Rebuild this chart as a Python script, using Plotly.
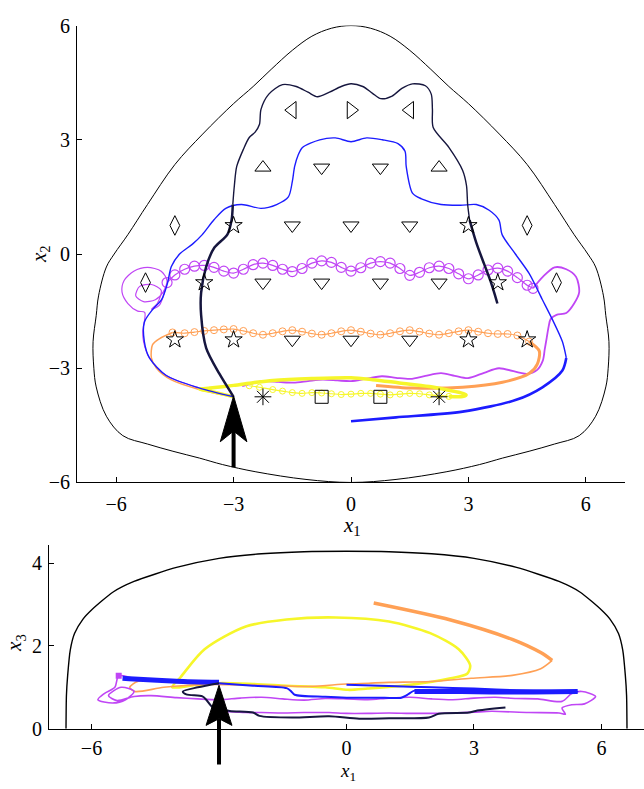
import plotly.graph_objects as go

# ---------------- colours ----------------
NAVY = "#16163e"
BLUE = "#1c1cff"
MAG = "#c046f5"
ORANGE = "#ffa055"
YELLOW = "#f6f62a"

# ---------------- top panel (x1, x2) ----------------
# right half of the admissible region boundary (mirrored for the left half)
BND_TOP_RX = [0.0, 0.5, 1.0, 1.5, 2.04, 2.5, 3.0, 3.79, 4.5, 5.2, 5.7, 6.05, 6.25, 6.45, 6.51,
              6.59, 6.57, 6.51, 6.25, 5.83, 5.2, 4.55, 3.87, 3.28, 2.43, 1.15, 0.0]
BND_TOP_RY = [6.0, 5.93, 5.72, 5.35, 4.85, 4.4, 3.95, 3.15, 2.35, 1.3, 0.51, 0.0, -0.34, -1.1, -1.62,
              -2.3, -3.0, -3.49, -4.26, -4.77, -4.99, -5.18, -5.36, -5.53, -5.72, -5.92, -6.0]

NAVY_A_X = [-3.0, -3.36, -3.7, -3.83, -3.83, -3.7, -3.49, -3.16, -3.05, -3.02]
NAVY_A_Y = [-3.75, -3.15, -2.47, -1.6, -1.02, -0.33, 0.17, 0.51, 0.9, 1.3]
NAVY_B_X = [-3.02, -2.98, -2.92, -2.75, -2.6, -2.45, -2.34, -2.3, -2.1, -1.75, -1.4, -1.1, -0.86,
            -0.55, -0.25, 0.0, 0.3, 0.55, 0.76, 1.05, 1.3, 1.57, 1.9, 2.05, 2.08, 2.1, 2.5, 2.85,
            2.95, 2.98, 3.03]
NAVY_B_Y = [1.3, 1.8, 2.3, 2.75, 3.06, 3.2, 3.4, 3.8, 4.2, 4.45, 4.4, 4.25, 4.13, 4.25, 4.4, 4.47,
            4.4, 4.22, 4.08, 4.15, 4.35, 4.47, 4.42, 4.2, 3.8, 3.32, 2.8, 2.2, 1.8, 1.3, 0.89]
NAVY_C_X = [3.03, 3.2, 3.4, 3.56, 3.66, 3.74]
NAVY_C_Y = [0.89, 0.3, -0.26, -0.7, -1.02, -1.3]

BLUE_A_X = [-3.0, -3.87, -4.72, -5.15, -5.28, -5.28, -5.07, -4.84, -4.69, -4.59, -4.38, -4.05,
            -3.8, -3.5, -3.2, -2.8, -2.3, -1.9, -1.6, -1.5, -1.44, -1.35, -1.24, -0.8, -0.4, 0.0,
            0.4, 0.8, 1.2, 1.38, 1.41, 1.57, 1.8, 2.3, 2.8, 3.2, 3.53, 3.78, 3.86, 4.2, 4.55, 4.89,
            5.14, 5.4, 5.5]
BLUE_A_Y = [-3.75, -3.52, -3.19, -2.73, -2.3, -1.79, -1.46, -1.2, -0.77, -0.33, 0.0, 0.26, 0.51,
            0.9, 1.2, 1.3, 1.2, 1.3, 1.5, 1.9, 2.3, 2.6, 2.8, 3.0, 3.05, 2.95, 3.05, 3.0, 2.9, 2.7,
            2.3, 1.6, 1.45, 1.3, 1.28, 1.3, 1.15, 0.89, 0.51, 0.0, -0.51, -1.2, -1.71, -2.3, -2.73]
BLUE_B_X = [5.5, 5.4, 4.89, 4.22, 2.85, 1.15, 0.0]
BLUE_B_Y = [-2.73, -3.06, -3.5, -3.83, -4.14, -4.29, -4.39]

MAG_A_X = [-3.0, -3.87, -4.72, -5.15, -5.3, -5.32, -5.27, -5.45, -5.7, -5.85, -5.8, -5.55, -5.2,
           -4.85, -4.7, -4.8, -5.0, -5.3, -5.5, -5.4, -5.1, -4.85, -4.95, -5.1, -4.9, -4.7]
MAG_A_Y = [-3.75, -3.52, -3.19, -2.73, -2.3, -2.04, -1.53, -1.5, -1.3, -1.0, -0.7, -0.45, -0.35,
           -0.45, -0.7, -1.0, -1.2, -1.25, -1.1, -0.85, -0.8, -0.95, -1.3, -1.45, -1.35, -0.75]
MAG_ROW_X = [-4.7, -4.5, -4.25, -4.0, -3.75, -3.5, -3.25, -3.0, -2.75, -2.5, -2.25, -2.0, -1.75,
             -1.5, -1.25, -1.0, -0.75, -0.5, -0.25, 0.0, 0.25, 0.5, 0.75, 1.0, 1.25, 1.5, 1.75,
             2.0, 2.25, 2.5, 2.75, 3.0, 3.25, 3.5, 3.75, 4.0, 4.25, 4.5, 4.65]
MAG_ROW_Y = [-0.75, -0.55, -0.4, -0.32, -0.3, -0.35, -0.45, -0.5, -0.4, -0.28, -0.24, -0.3, -0.4,
             -0.46, -0.38, -0.24, -0.18, -0.22, -0.35, -0.45, -0.36, -0.24, -0.2, -0.24, -0.38,
             -0.56, -0.48, -0.36, -0.32, -0.38, -0.52, -0.65, -0.55, -0.42, -0.37, -0.45, -0.62,
             -0.82, -0.9]
MAG_C_X = [4.65, 4.9, 5.2, 5.5, 5.75, 5.83, 5.7, 5.5, 5.25, 5.1, 5.05, 5.0, 4.95, 4.9, 4.75, 4.5,
           3.78, 3.4, 2.99, 2.65, 2.3, 1.9, 1.52, 1.15, 0.79, 0.4, 0.0, -0.35, -0.73, -1.1, -1.47,
           -1.85, -2.25, -2.78]
MAG_C_Y = [-0.9, -0.6, -0.35, -0.4, -0.6, -1.0, -1.3, -1.55, -1.6, -1.71, -1.9, -2.2, -2.5, -2.8,
           -3.05, -3.15, -3.0, -3.12, -3.26, -3.2, -3.13, -3.2, -3.28, -3.25, -3.21, -3.27, -3.34,
           -3.32, -3.3, -3.34, -3.38, -3.36, -3.34, -3.47]

ORA_A_X = [-3.0, -3.9, -4.6, -4.97, -5.1, -5.07, -4.89, -4.56]
ORA_A_Y = [-3.75, -3.55, -3.3, -3.0, -2.73, -2.38, -2.22, -2.06]
ORA_ROW_X = [-4.56, -4.25, -4.0, -3.75, -3.5, -3.25, -3.0, -2.75, -2.5, -2.25, -2.0, -1.75, -1.5,
             -1.25, -1.0, -0.75, -0.5, -0.25, 0.0, 0.25, 0.5, 0.75, 1.0, 1.25, 1.5, 1.75, 2.0,
             2.25, 2.5, 2.75, 3.0, 3.25, 3.5, 3.75, 4.0, 4.25, 4.55]
ORA_ROW_Y = [-2.06, -2.08, -2.05, -2.02, -2.0, -1.98, -1.97, -2.02, -2.08, -2.12, -2.08, -2.03,
             -2.0, -2.04, -2.09, -2.12, -2.08, -2.03, -2.0, -2.04, -2.09, -2.12, -2.08, -2.03,
             -2.0, -2.04, -2.09, -2.12, -2.08, -2.03, -2.0, -2.04, -2.08, -2.1, -2.1, -2.14, -2.3]
ORA_B_X = [4.55, 4.81, 4.76, 4.55, 3.87, 2.85, 1.57, 0.64]
ORA_B_Y = [-2.3, -2.55, -2.89, -3.14, -3.37, -3.5, -3.52, -3.45]

YEL_A_X = [-3.0, -3.6, -3.87, -3.6, -3.0, -2.5, -2.0, -1.0, 0.0, 0.55, 1.2, 2.0, 2.5, 2.85, 2.94,
           2.85, 2.5]
YEL_A_Y = [-3.75, -3.6, -3.55, -3.52, -3.45, -3.38, -3.32, -3.27, -3.25, -3.3, -3.38, -3.48,
           -3.58, -3.66, -3.7, -3.74, -3.74]
YEL_B_X = [2.5, 2.25, 2.0, 1.75, 1.5, 1.25, 1.0, 0.75, 0.5, 0.25, 0.0, -0.25, -0.5, -0.75, -1.0,
           -1.25, -1.5, -1.75, -2.0, -2.34, -2.6]
YEL_B_Y = [-3.74, -3.72, -3.7, -3.67, -3.66, -3.68, -3.7, -3.68, -3.66, -3.66, -3.68, -3.69,
           -3.67, -3.65, -3.64, -3.66, -3.64, -3.6, -3.56, -3.5, -3.46]

# target / obstacle markers: (x1, x2, symbol)
MK_X = [-1.5, 0.0, 1.5,
        -2.25, -0.75, 0.75, 2.25,
        -4.5, -3.0, -1.5, 0.0, 1.5, 3.0, 4.5,
        -5.25, -3.75, -2.25, -0.75, 0.75, 2.25, 3.75, 5.25,
        -4.5, -3.0, -1.5, 0.0, 1.5, 3.0, 4.5,
        -2.25, -0.75, 0.75, 2.25]
MK_Y = [3.78, 3.78, 3.78,
        2.27, 2.27, 2.27, 2.27,
        0.75, 0.75, 0.75, 0.75, 0.75, 0.75, 0.75,
        -0.75, -0.75, -0.75, -0.75, -0.75, -0.75, -0.75, -0.75,
        -2.25, -2.25, -2.25, -2.25, -2.25, -2.25, -2.25,
        -3.75, -3.75, -3.75, -3.75]
MK_S = ["triangle-left", "triangle-right", "triangle-left",
        "triangle-up", "triangle-down", "triangle-down", "triangle-up",
        "diamond-tall", "star", "triangle-down", "triangle-down", "triangle-down", "star", "diamond-tall",
        "diamond-tall", "star", "triangle-down", "triangle-down", "triangle-down", "triangle-down", "star", "diamond-tall",
        "star", "star", "triangle-down", "triangle-down", "triangle-down", "star", "star",
        "asterisk", "square", "square", "asterisk"]

ARROW_TOP = dict(x=-3.0, tip=-3.73, tail=-5.6)
ARROW_BOT = dict(x=-3.0, tip=1.05, tail=-0.9)

# ---------------- bottom panel (x1, x3) ----------------
BND_BOT_X = [-6.6, -6.59, -6.56, -6.5, -6.4, -6.2, -6.0, -5.5, -5.0, -4.0, -3.0, -2.0, -1.0, 0.0,
             1.0, 2.0, 3.0, 4.0, 5.0, 5.5, 6.0, 6.2, 6.4, 6.5, 6.56, 6.59, 6.6]
BND_BOT_Y = [0.0, 0.8, 1.3, 1.9, 2.3, 2.65, 2.87, 3.3, 3.56, 3.9, 4.12, 4.23, 4.28, 4.29,
             4.28, 4.23, 4.12, 3.9, 3.56, 3.3, 2.87, 2.65, 2.3, 1.9, 1.3, 0.8, 0.0]

NAVY_BX = [-3.0, -3.5, -3.85, -3.77, -3.39, -3.3, -3.14, -2.75, -2.2, -2.05, -1.27, -0.41, 0.3,
           1.0, 1.94, 2.17, 2.88, 3.04, 3.74]
NAVY_BY = [1.1, 1.0, 0.9, 0.83, 0.78, 0.7, 0.51, 0.43, 0.39, 0.31, 0.27, 0.3, 0.24, 0.25, 0.27,
           0.36, 0.39, 0.43, 0.51]

BLUE_BX = [-3.0, -2.2, -1.41, -1.3, -1.22, -0.5, 0.0, 0.7, 1.29, 1.4, 1.49, 1.6, 2.7, 3.41, 4.4,
           5.44, 5.3, 4.0, 3.0, 2.0, 1.0, 0.0]
BLUE_BY = [1.1, 1.04, 0.98, 0.9, 0.82, 0.77, 0.75, 0.75, 0.75, 0.8, 0.86, 0.92, 0.93, 0.92, 0.91,
           0.9, 0.9, 0.93, 0.97, 1.0, 1.03, 1.06]
BLUE_BANDX = [-3.0, -4.0, -5.0, -5.27, None, 1.6, 2.7, 3.41, 4.4, 5.44]
BLUE_BANDY = [1.12, 1.15, 1.2, 1.22, None, 0.9, 0.9, 0.89, 0.89, 0.9]

MAG_BX = [-3.0, -4.0, -5.0, -5.36, -5.45, -5.7, -5.85, -5.5, -5.2, -5.0, -5.3, -5.6, -5.4, -5.0,
          -4.6, -4.0, -3.5, -3.0, -2.5, -2.0, -1.5, -1.0, -0.5, 0.0, 0.5, 1.0, 1.5, 2.0, 2.5,
          3.0, 3.5, 4.0, 4.5, 5.07, 5.3, 5.54, 5.86, 5.6, 5.3, 5.07, 5.15, 5.0, 4.29, 3.41, 3.0,
          2.5, 2.0, 1.49, 1.0, 0.5, 0.0, -0.41, -1.0, -1.5, -2.0, -2.37, -2.8, -3.14]
MAG_BY = [1.1, 1.15, 1.22, 1.28, 1.0, 0.85, 0.7, 0.62, 0.7, 0.9, 1.0, 0.8, 0.68, 0.78, 0.8, 0.75,
          0.72, 0.7, 0.74, 0.76, 0.72, 0.69, 0.73, 0.72, 0.7, 0.74, 0.76, 0.72, 0.7, 0.74, 0.76,
          0.73, 0.72, 0.66, 0.85, 0.9, 0.78, 0.6, 0.58, 0.5, 0.35, 0.38, 0.39, 0.42, 0.4, 0.38,
          0.37, 0.37, 0.38, 0.37, 0.37, 0.39, 0.39, 0.38, 0.39, 0.39, 0.41, 0.43]

ORA_BX = [-3.0, -4.0, -4.9, -5.1, -4.98, -4.3, -3.34, -2.0, -1.0, 0.0, 0.52, 1.0, 1.97, 2.93,
          3.9, 4.57, 4.84]
ORA_BY = [1.1, 1.12, 1.15, 1.0, 0.9, 1.0, 1.07, 1.05, 1.02, 1.08, 1.1, 1.12, 1.14, 1.22, 1.29,
          1.45, 1.65]
ORA_THX = [4.84, 4.57, 3.9, 2.45, 0.64]
ORA_THY = [1.65, 1.84, 2.16, 2.63, 3.04]

YEL_BX = [-3.0, -3.6, -4.1, -3.9, -3.34, -2.37, -1.41, -0.25, 1.0, 1.97, 2.64, 2.91, 2.84, 2.45,
          1.49, 0.5, 0.04, -0.5, -1.41, -2.2, -3.0]
YEL_BY = [1.1, 1.05, 1.0, 1.25, 1.92, 2.47, 2.64, 2.69, 2.59, 2.31, 1.92, 1.53, 1.33, 1.22,
          1.06, 0.97, 0.94, 1.0, 1.04, 1.08, 1.1]

# ---------------- figure ----------------
fig = go.Figure()


def line(xs, ys, color, width, xa="x", ya="y", markers=None, smooth=0.8):
    kw = dict(x=xs, y=ys, xaxis=xa, yaxis=ya, hoverinfo="skip",
              line=dict(color=color, width=width, shape="spline", smoothing=smooth),
              mode="lines")
    if markers:
        kw["mode"] = "lines+markers"
        kw["marker"] = markers
    fig.add_trace(go.Scatter(**kw))


# boundary top
bx = BND_TOP_RX + [-v for v in reversed(BND_TOP_RX[:-1])]
by = BND_TOP_RY + list(reversed(BND_TOP_RY[:-1]))
line(bx, by, "black", 1, smooth=1.0)

line(MAG_A_X, MAG_A_Y, MAG, 1.2)
line(MAG_ROW_X, MAG_ROW_Y, MAG, 1.2,
     markers=dict(symbol="circle-open", size=10, color=MAG, line=dict(width=1.2, color=MAG)))
line(MAG_C_X, MAG_C_Y, MAG, 1.8)
line(ORA_A_X, ORA_A_Y, ORANGE, 1.5)
line(ORA_ROW_X, ORA_ROW_Y, ORANGE, 1.2,
     markers=dict(symbol="circle-open", size=7, color=ORANGE, line=dict(width=1, color=ORANGE)))
line(ORA_B_X, ORA_B_Y, ORANGE, 3)
line(YEL_B_X, YEL_B_Y, YELLOW, 1.2,
     markers=dict(symbol="circle-open", size=6, color=YELLOW, line=dict(width=1, color=YELLOW)))
line(YEL_A_X, YEL_A_Y, YELLOW, 3.5)
line(BLUE_A_X, BLUE_A_Y, BLUE, 1.4)
line(BLUE_B_X, BLUE_B_Y, BLUE, 2.6)
line(NAVY_A_X, NAVY_A_Y, NAVY, 2.5)
line(NAVY_B_X, NAVY_B_Y, NAVY, 1.4)
line(NAVY_C_X, NAVY_C_Y, NAVY, 2.5)

# markers
MK_SIZE = {"triangle-left": 15, "triangle-right": 15, "triangle-up": 14, "triangle-down": 14,
           "diamond-tall": 14, "star": 13, "square": 13, "asterisk": 14}
for sym in sorted(set(MK_S)):
    xs = [x for x, s in zip(MK_X, MK_S) if s == sym]
    ys = [y for y, s in zip(MK_Y, MK_S) if s == sym]
    fig.add_trace(go.Scatter(x=xs, y=ys, mode="markers", xaxis="x", yaxis="y", hoverinfo="skip",
                             marker=dict(symbol=sym + "-open", size=MK_SIZE[sym], color="black",
                                         line=dict(width=1, color="black"))))


def arrow_head(a, half_w, length, notch, xa, ya):
    hx = [a["x"], a["x"] + half_w, a["x"], a["x"] - half_w, a["x"]]
    hy = [a["tip"], a["tip"] - length, a["tip"] - notch, a["tip"] - length, a["tip"]]
    fig.add_trace(go.Scatter(x=hx, y=hy, mode="lines", fill="toself", fillcolor="black",
                             line=dict(color="black", width=1), xaxis=xa, yaxis=ya,
                             hoverinfo="skip"))


# top arrow: shaft + head
fig.add_trace(go.Scatter(x=[ARROW_TOP["x"], ARROW_TOP["x"]],
                         y=[ARROW_TOP["tail"], ARROW_TOP["tip"] - 0.92], mode="lines",
                         line=dict(color="black", width=4), xaxis="x", yaxis="y",
                         hoverinfo="skip"))
arrow_head(ARROW_TOP, 0.34, 1.2, 0.92, "x", "y")

# bottom panel
line(BND_BOT_X, BND_BOT_Y, "black", 1.4, "x2", "y2", smooth=0.6)
line(YEL_BX, YEL_BY, YELLOW, 2.6, "x2", "y2")
line(ORA_BX, ORA_BY, ORANGE, 1.6, "x2", "y2")
line(ORA_THX, ORA_THY, ORANGE, 3.5, "x2", "y2")
line(MAG_BX, MAG_BY, MAG, 1.6, "x2", "y2")
line(BLUE_BX, BLUE_BY, BLUE, 2, "x2", "y2")
line(BLUE_BANDX, BLUE_BANDY, BLUE, 5, "x2", "y2")
line(NAVY_BX, NAVY_BY, NAVY, 2, "x2", "y2")
fig.add_trace(go.Scatter(x=[-5.36], y=[1.28], mode="markers", xaxis="x2", yaxis="y2",
                         marker=dict(symbol="square", size=6, color=MAG), hoverinfo="skip"))
arrow_head(ARROW_BOT, 0.305, 0.97, 0.81, "x2", "y2")
# bottom shaft reaches below the axis, so draw it as an (unclipped) annotation arrow
fig.add_annotation(x=ARROW_BOT["x"], y=ARROW_BOT["tip"] - 0.81, ax=ARROW_BOT["x"],
                   ay=ARROW_BOT["tail"], xref="x2", yref="y2", axref="x2", ayref="y2",
                   text="", showarrow=True, arrowhead=0, arrowwidth=4, arrowcolor="black",
                   standoff=0, startstandoff=0)

FONT = "Liberation Serif"
axis_common = dict(showline=True, linecolor="black", linewidth=1, ticks="inside", ticklen=5,
                   tickcolor="black", showgrid=False, zeroline=False,
                   tickfont=dict(family=FONT, size=20, color="black"))

fig.update_layout(
    width=644, height=789, margin=dict(l=0, r=0, t=0, b=0),
    paper_bgcolor="white", plot_bgcolor="white", showlegend=False,
    xaxis=dict(domain=[0.1196, 0.9705], range=[-7, 7], tickvals=[-6, -3, 0, 3, 6],
               anchor="y", ticklabelstandoff=4, **axis_common),
    yaxis=dict(domain=[0.3853, 0.981], range=[-6, 6], tickvals=[-6, -3, 0, 3, 6],
               anchor="x", ticklabelstandoff=2, **axis_common),
    xaxis2=dict(domain=[0.0761, 1.0], range=[-7, 7], tickvals=[-6, 0, 3, 6],
                anchor="y2", ticklabelstandoff=1, **axis_common),
    yaxis2=dict(domain=[0.0643, 0.3042], range=[0, 4.45], tickvals=[0, 2, 4],
                anchor="x2", ticklabelstandoff=2, **axis_common),
)

for base, sub, px, py, ang, fs in [("x", "1", 352, 530, 0, 21), ("x", "2", 40, 250, -90, 21),
                                   ("x", "3", 15, 650, -90, 21), ("x", "1", 348, 783, 0, 19)]:
    fig.add_annotation(text="<i>" + base + "</i><sub>" + sub + "</sub>", x=px / 644,
                       y=1 - py / 789, xref="paper", yref="paper", showarrow=False,
                       textangle=ang, font=dict(family=FONT, size=fs, color="black"),
                       xanchor="center", yanchor="middle")

fig.write_html("out.html")
